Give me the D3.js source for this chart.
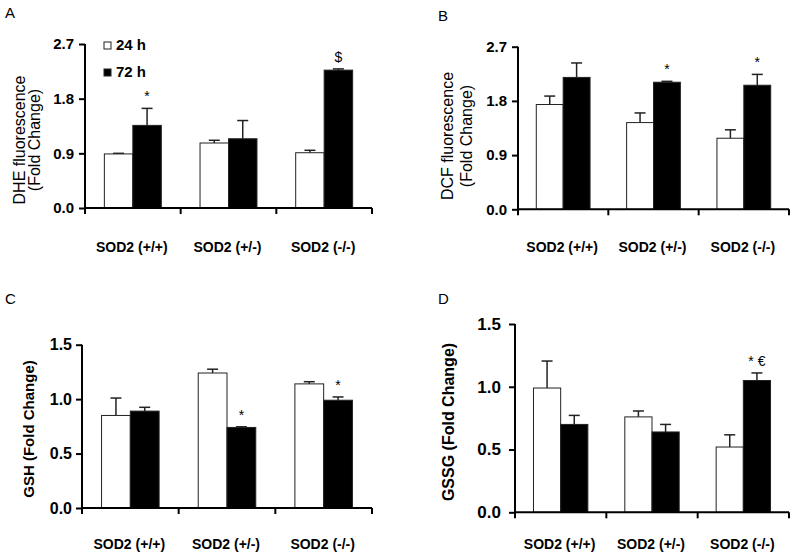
<!DOCTYPE html>
<html><head><meta charset="utf-8">
<script src="https://cdn.jsdelivr.net/npm/d3@7"></script>
<style>
body{margin:0;background:#fff;}
svg{display:block;font-family:"Liberation Sans",Arial,sans-serif;}
</style></head>
<body><svg id="c" width="800" height="558"></svg>
<script>
// ---- data ----
const categories = ["SOD2 (+/+)", "SOD2 (+/-)", "SOD2 (-/-)"];
const seriesNames = ["24 h", "72 h"];

const dhe24 = [0.89, 1.07, 0.91];
const dhe24Err = [0.01, 0.045, 0.04];
const dhe72 = [1.36, 1.14, 2.27];
const dhe72Err = [0.28, 0.30, 0.02];
const dheNotes72 = ["*", "", "$"];

const dcf24 = [1.74, 1.44, 1.18];
const dcf24Err = [0.14, 0.16, 0.14];
const dcf72 = [2.19, 2.11, 2.06];
const dcf72Err = [0.24, 0.015, 0.18];
const dcfNotes72 = ["", "*", "*"];

const gsh24 = [0.85, 1.24, 1.14];
const gsh24Err = [0.16, 0.035, 0.02];
const gsh72 = [0.89, 0.74, 0.99];
const gsh72Err = [0.035, 0.006, 0.03];
const gshNotes72 = ["", "*", "*"];

const gssg24 = [0.99, 0.76, 0.52];
const gssg24Err = [0.215, 0.047, 0.097];
const gssg72 = [0.70, 0.64, 1.05];
const gssg72Err = [0.072, 0.06, 0.06];
const gssgNotes72 = ["", "", "* €"];

const ticksFluor = [0, 0.9, 1.8, 2.7];
const tickLabelsFluor = ["0.0", "0.9", "1.8", "2.7"];
const ticksGlut = [0, 0.5, 1.0, 1.5];
const tickLabelsGlut = ["0.0", "0.5", "1.0", "1.5"];

// ---- layout ----
const panels = [
  {letter:"A", lx:5, ly:18, x0:85, x1:372, yTop:44, yBot:208, max:2.7,
   ticks:ticksFluor, tickLabels:tickLabelsFluor, tickFs:15, tickGap:11,
   v24:dhe24, e24:dhe24Err, v72:dhe72, e72:dhe72Err, notes:dheNotes72,
   ylab:["DHE fluorescence","(Fold Change)"], ylabBold:false, ylabFs:16, ylabX:[25,40], ylabY:140,
   catY:252, catFs:14, legend:true},
  {letter:"B", lx:438, ly:21, x0:518, x1:789, yTop:46.7, yBot:209.3, max:2.7,
   ticks:ticksFluor, tickLabels:tickLabelsFluor, tickFs:15, tickGap:11,
   v24:dcf24, e24:dcf24Err, v72:dcf72, e72:dcf72Err, notes:dcfNotes72,
   ylab:["DCF fluorescence","(Fold Change)"], ylabBold:false, ylabFs:16, ylabX:[453,472], ylabY:136,
   catY:252, catFs:14, legend:false},
  {letter:"C", lx:5, ly:304, x0:82, x1:372, yTop:344.7, yBot:508, max:1.5,
   ticks:ticksGlut, tickLabels:tickLabelsGlut, tickFs:16, tickGap:10,
   v24:gsh24, e24:gsh24Err, v72:gsh72, e72:gsh72Err, notes:gshNotes72,
   ylab:["GSH (Fold Change)"], ylabBold:true, ylabFs:15, ylabX:[34], ylabY:429,
   catY:549, catFs:14, legend:false},
  {letter:"D", lx:438, ly:304, x0:515, x1:789, yTop:324, yBot:512.3, max:1.5,
   ticks:ticksGlut, tickLabels:tickLabelsGlut, tickFs:17, tickGap:14,
   v24:gssg24, e24:gssg24Err, v72:gssg72, e72:gssg72Err, notes:gssgNotes72,
   ylab:["GSSG (Fold Change)"], ylabBold:true, ylabFs:16, ylabX:[454], ylabY:422,
   catY:549, catFs:14, legend:false}
];

const svg = d3.select("#c");

panels.forEach(p => {
  const g = svg.append("g");
  const y = d3.scaleLinear().domain([0, p.max]).range([p.yBot, p.yTop]);
  const x = d3.scaleBand().domain(categories).range([p.x0, p.x1]).padding(0);
  const xs = d3.scaleBand().domain(seriesNames).range([0, x.bandwidth()])
               .paddingInner(0).paddingOuter(0.68);

  // panel letter
  g.append("text").attr("x", p.lx).attr("y", p.ly)
    .attr("font-size", 15).text(p.letter);

  const rows = [];
  categories.forEach((c, i) => {
    rows.push({cat:c, s:"24 h", v:p.v24[i], e:p.e24[i], note:""});
    rows.push({cat:c, s:"72 h", v:p.v72[i], e:p.e72[i], note:p.notes[i]});
  });

  // error bars (drawn behind bars)
  const eb = g.append("g").attr("stroke", "#222").attr("stroke-width", 1.5);
  rows.forEach(r => {
    const cx = x(r.cat) + xs(r.s) + xs.bandwidth() / 2;
    eb.append("line").attr("x1", cx).attr("x2", cx)
      .attr("y1", y(r.v)).attr("y2", y(r.v + r.e));
    eb.append("line").attr("x1", cx - 5.5).attr("x2", cx + 5.5)
      .attr("y1", y(r.v + r.e)).attr("y2", y(r.v + r.e));
  });

  // bars
  g.append("g").selectAll("rect").data(rows).join("rect")
    .attr("x", d => x(d.cat) + xs(d.s))
    .attr("width", xs.bandwidth())
    .attr("y", d => y(d.v))
    .attr("height", d => y(0) - y(d.v))
    .attr("fill", d => d.s === "24 h" ? "#fff" : "#000")
    .attr("stroke", "#222").attr("stroke-width", 1);

  // annotations
  g.append("g").selectAll("text").data(rows.filter(r => r.note)).join("text")
    .attr("x", d => x(d.cat) + xs(d.s) + xs.bandwidth() / 2)
    .attr("y", d => y(d.v + d.e) - 12)
    .attr("dominant-baseline", "central")
    .attr("text-anchor", "middle")
    .attr("font-size", 14)
    .text(d => d.note);

  // y axis
  const yAxis = d3.axisLeft(y).tickValues(p.ticks)
    .tickFormat((d, i) => p.tickLabels[i]).tickSize(6).tickSizeOuter(0);
  const ya = g.append("g").attr("transform", `translate(${p.x0},0)`).call(yAxis);
  ya.select(".domain").attr("stroke", "#000").attr("stroke-width", 2)
    .attr("d", `M0,${p.yTop}V${p.yBot + 6}`);
  ya.selectAll(".tick line").attr("stroke", "#000").attr("stroke-width", 2);
  ya.selectAll(".tick text").attr("x", -p.tickGap).attr("font-size", p.tickFs)
    .attr("font-weight", "bold").attr("fill", "#000")
    .attr("font-family", "Liberation Sans, Arial, sans-serif");

  // x axis (ticks at group boundaries)
  const bounds = categories.map(c => x(c)).concat([p.x1]);
  g.append("line").attr("x1", p.x0).attr("x2", p.x1)
    .attr("y1", p.yBot).attr("y2", p.yBot)
    .attr("stroke", "#000").attr("stroke-width", 2);
  g.append("g").selectAll("line").data(bounds.slice(1)).join("line")
    .attr("x1", d => d).attr("x2", d => d)
    .attr("y1", p.yBot).attr("y2", p.yBot + 6)
    .attr("stroke", "#000").attr("stroke-width", 2);

  // category labels
  g.append("g").selectAll("text").data(categories).join("text")
    .attr("x", d => x(d) + x.bandwidth() / 2 - 1)
    .attr("y", p.catY)
    .attr("text-anchor", "middle")
    .attr("font-size", p.catFs).attr("font-weight", "bold")
    .text(d => d);

  // y label
  p.ylab.forEach((t, i) => {
    g.append("text")
      .attr("transform", `translate(${p.ylabX[i]},${p.ylabY}) rotate(-90)`)
      .attr("text-anchor", "middle")
      .attr("font-size", p.ylabFs)
      .attr("font-weight", p.ylabBold ? "bold" : "normal")
      .text(t);
  });

  // legend
  if (p.legend) {
    const lg = g.append("g");
    const items = [{s:"24 h", fill:"#fff", y:42}, {s:"72 h", fill:"#000", y:69}];
    lg.selectAll("rect").data(items).join("rect")
      .attr("x", 104).attr("y", d => d.y).attr("width", 7).attr("height", 7)
      .attr("fill", d => d.fill).attr("stroke", "#222").attr("stroke-width", 1);
    lg.selectAll("text").data(items).join("text")
      .attr("x", 116).attr("y", d => d.y + 8)
      .attr("font-size", 15).attr("font-weight", "bold")
      .text(d => d.s);
  }
});
</script>
</body></html>
